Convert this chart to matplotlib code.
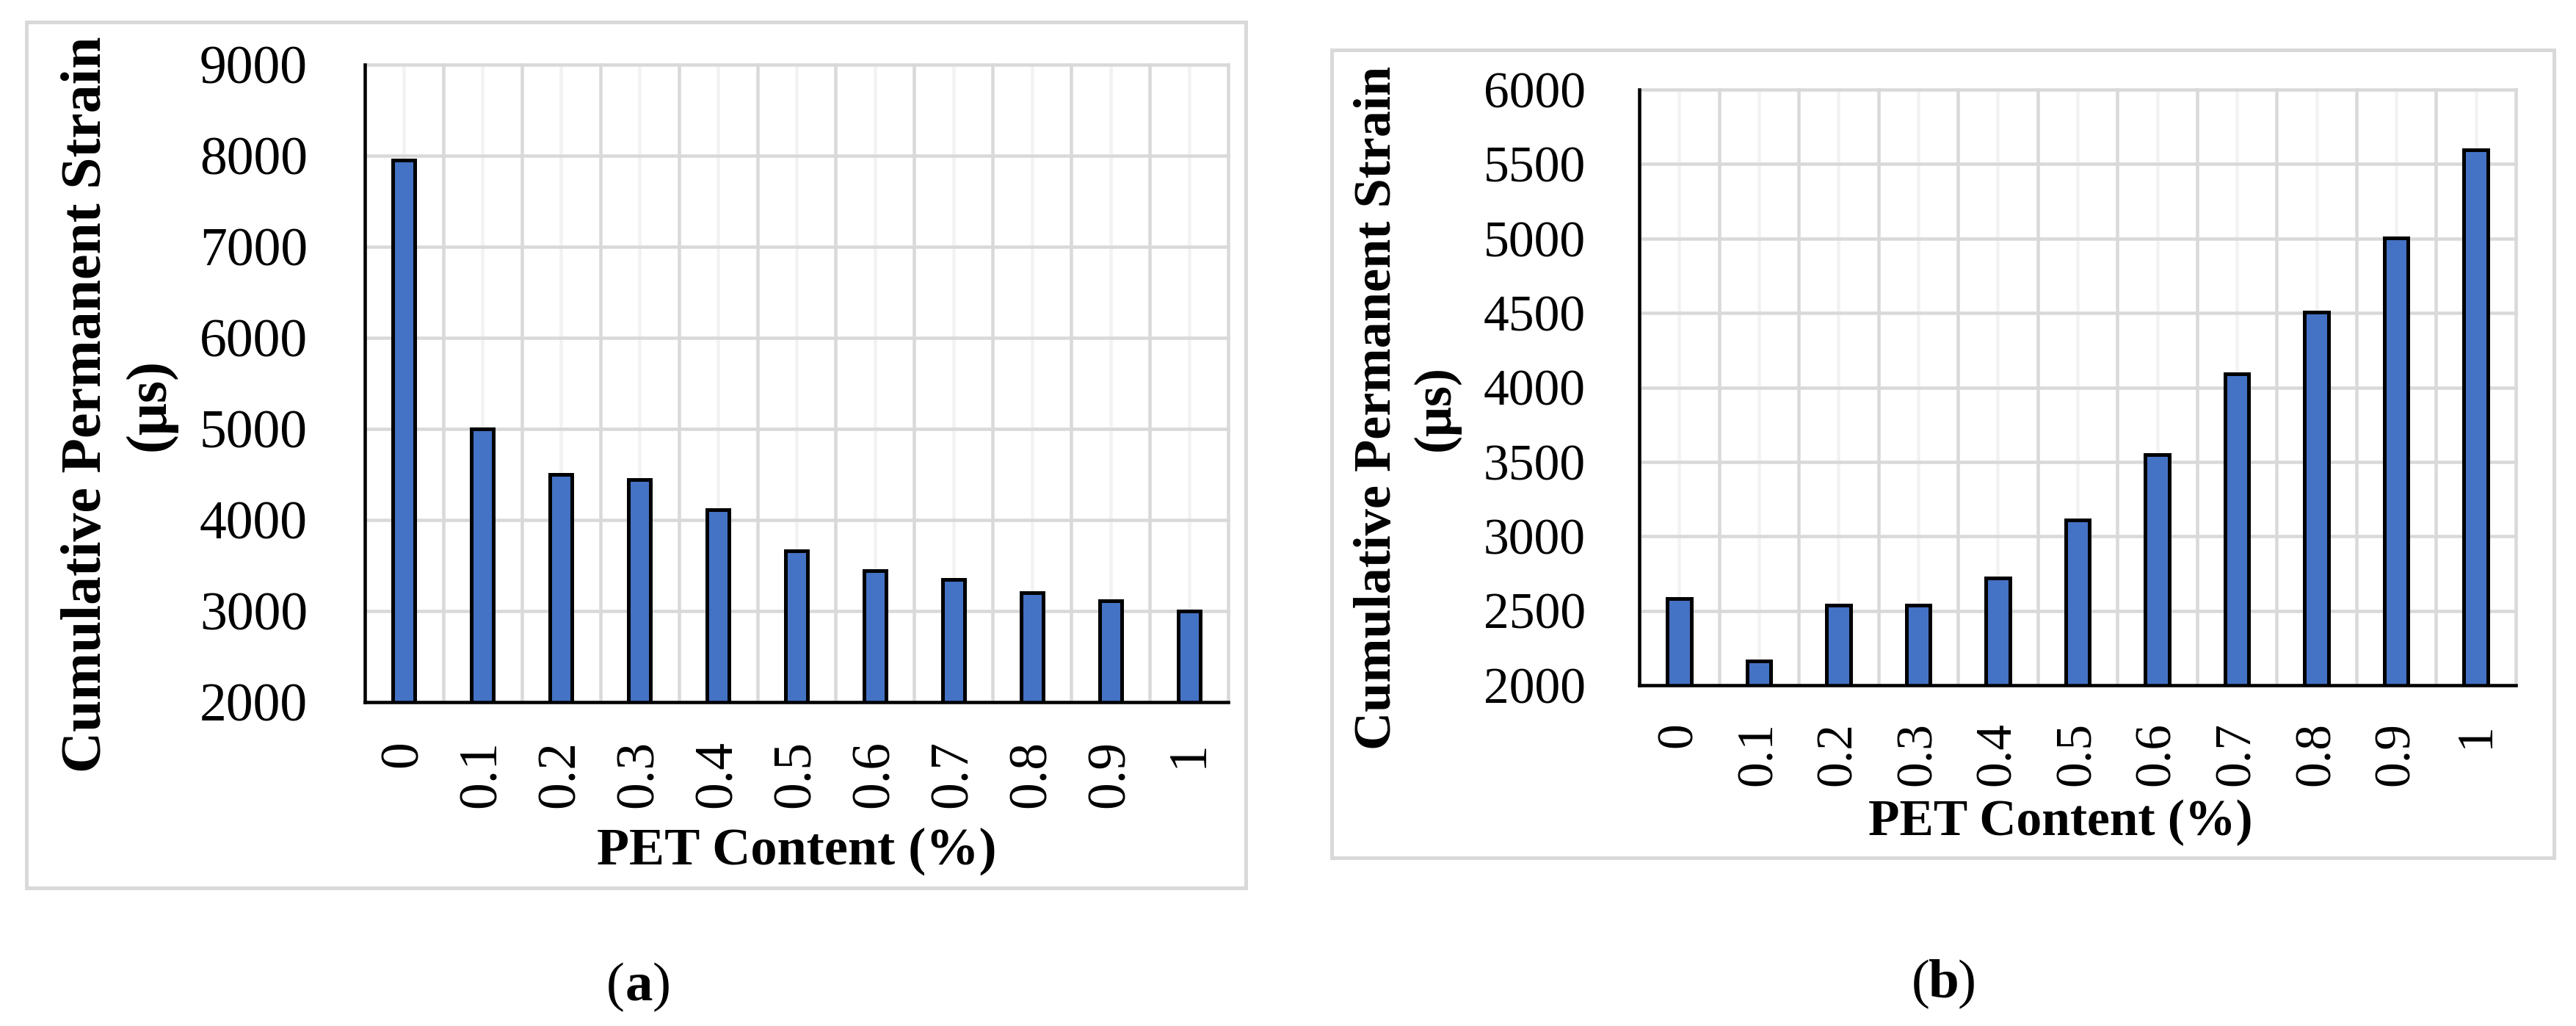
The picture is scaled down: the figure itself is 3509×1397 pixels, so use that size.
import matplotlib
matplotlib.use("Agg")
import matplotlib.pyplot as plt
from matplotlib.patches import Rectangle
import numpy as np

# ---------------- data ----------------
categories = ["0", "0.1", "0.2", "0.3", "0.4", "0.5", "0.6", "0.7", "0.8", "0.9", "1"]
strain_a = [7950, 5000, 4500, 4440, 4110, 3660, 3440, 3350, 3200, 3110, 3000]
strain_b = [2580, 2165, 2540, 2540, 2720, 3110, 3550, 4090, 4505, 5005, 5595]
yticks_a = [2000, 3000, 4000, 5000, 6000, 7000, 8000, 9000]
yticks_b = [2000, 2500, 3000, 3500, 4000, 4500, 5000, 5500, 6000]
ylabel_line1 = "Cumulative Permanent Strain"
ylabel_line2 = "(μs)"
xlabel_text = "PET Content (%)"

# ---------------- layout helpers ----------------
W, H = 3509, 1397
DPI = 100
PT = 72.0 / DPI
FONT = ["Liberation Serif", "DejaVu Serif"]
plt.rcParams["font.family"] = FONT

fig = plt.figure(figsize=(W / DPI, H / DPI), dpi=DPI)
fig.patch.set_facecolor("white")


def fx(px):
    return px / W


def fy(py):
    return 1 - py / H


# outer light-grey frames
for (x0, y0, x1, y1) in [(36, 30, 1697, 1209), (1814, 68, 3479, 1168)]:
    fig.add_artist(Rectangle((fx(x0), fy(y1)), fx(x1) - fx(x0), fy(y0) - fy(y1),
                             transform=fig.transFigure, fill=False,
                             edgecolor="#D9D9D9", linewidth=5 * PT))


def panel(box, vals, yticks, barw, tick_fs, ypad, xpad):
    x0, x1, ytop, ybase = box
    ax = fig.add_axes([fx(x0), fy(ybase), fx(x1) - fx(x0), fy(ytop) - fy(ybase)])
    n = len(categories)
    pos = np.arange(n)
    ax.bar(pos, vals, width=barw, color="#4472C4", edgecolor="black",
           linewidth=5 * PT, zorder=3)
    ax.set_xlim(-0.5, n - 0.5)
    ax.set_ylim(yticks[0], yticks[-1])
    ax.set_xticks(pos)
    ax.set_xticklabels(categories, rotation=90, fontsize=tick_fs)
    ax.set_yticks(yticks)
    ax.set_yticklabels([str(v) for v in yticks], fontsize=tick_fs)
    # gridlines (category centres light, boundaries darker, value lines darker)
    for p in pos:
        ax.axvline(p, color="#F2F2F2", linewidth=4.5 * PT, zorder=0.5, clip_on=False)
    for b in np.arange(n + 1) - 0.5:
        ax.axvline(b, color="#D9D9D9", linewidth=4.5 * PT, zorder=0.6, clip_on=False)
    for v in yticks:
        ax.axhline(v, color="#D9D9D9", linewidth=4.5 * PT, zorder=0.7, clip_on=False)
    ax.tick_params(which="both", length=0)
    ax.tick_params(axis="y", pad=ypad)
    ax.tick_params(axis="x", pad=xpad)
    for s in ["top", "right"]:
        ax.spines[s].set_visible(False)
    for s in ["left", "bottom"]:
        ax.spines[s].set_linewidth(4.5 * PT)
        ax.spines[s].set_color("black")
        ax.spines[s].set_zorder(5)
    return ax


ax_a = panel((497, 1673, 88, 956), strain_a, yticks_a, 0.28, 53, 78 * PT, 52 * PT)
ax_b = panel((2233, 3427, 122, 933), strain_b, yticks_b, 0.30, 50, 73 * PT, 50 * PT)


def ylab(xb1, xb2, yc, fs):
    for xb, t in [(xb1, ylabel_line1), (xb2, ylabel_line2)]:
        fig.text(fx(xb), fy(yc), t, rotation=90, rotation_mode="anchor",
                 ha="center", va="baseline", fontsize=fs, fontweight="bold")


ylab(137, 224, 551, 56)
ylab(1894, 1974, 555, 52)

fig.text(fx(1085), fy(1177), xlabel_text, ha="center", va="baseline",
         fontsize=52, fontweight="bold")
fig.text(fx(2807), fy(1137), xlabel_text, ha="center", va="baseline",
         fontsize=50, fontweight="bold")


def panel_tag(xc, yb, letter, fs):
    half = 19
    fig.text(fx(xc), fy(yb), letter, ha="center", va="baseline", fontsize=fs,
             fontweight="bold")
    fig.text(fx(xc - half), fy(yb), "(", ha="right", va="baseline", fontsize=fs)
    fig.text(fx(xc + half), fy(yb), ")", ha="left", va="baseline", fontsize=fs)


panel_tag(870, 1362, "a", 54)
panel_tag(2648, 1358, "b", 54)

fig.savefig("out.png", dpi=DPI, facecolor="white")
